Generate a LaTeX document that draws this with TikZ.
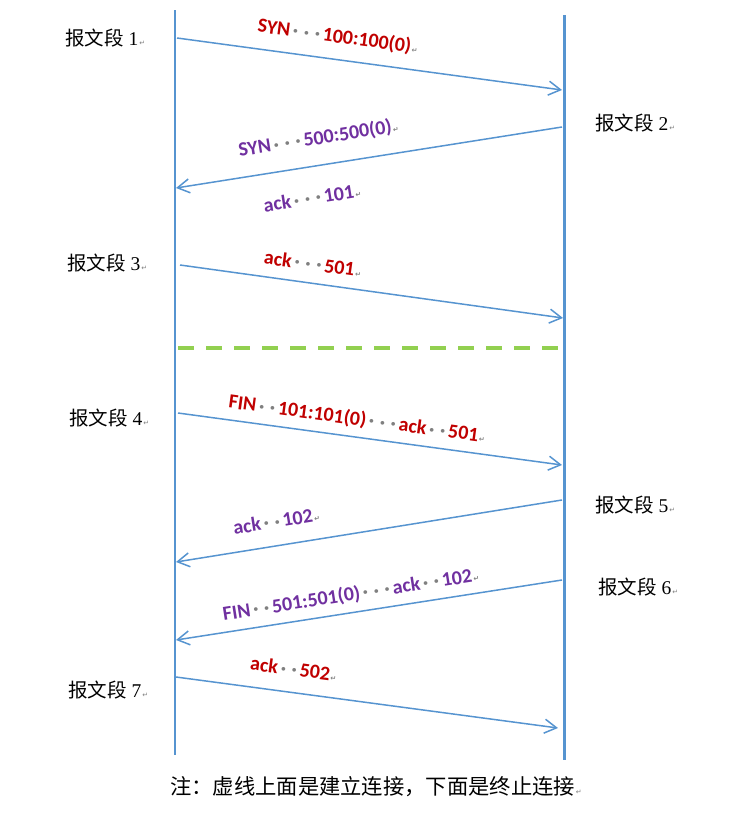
\documentclass[tikz,border=0pt]{standalone}
\usepackage{fontspec}
\setmainfont{Liberation Serif}
\newfontfamily\cjk{Noto Sans CJK SC}
\newfontfamily\lbl{Carlito}
\newfontfamily\symfont{DejaVu Sans}
\usepackage{xcolor}
\definecolor{lineblue}{RGB}{86,148,208}
\definecolor{segred}{RGB}{192,0,0}
\definecolor{segpurple}{RGB}{112,48,160}
\definecolor{dashgreen}{RGB}{146,208,80}
\usepackage{tikz}
\usetikzlibrary{positioning}
\usetikzlibrary{arrows.meta}

\newcommand{\gdot}{\makebox[11pt]{\color{gray}·}}
\newcommand{\pmark}{\hspace{1pt}{\symfont\fontsize{7}{7}\selectfont\color{gray}↵}}

\begin{document}
\begin{tikzpicture}[x=1pt,y=-1pt]
\useasboundingbox (0,0) rectangle (740,819);

% the two hosts
\coordinate (LT) at (175,10);
\coordinate (LB) at (175,755);
\coordinate (RT) at (564,15);
\coordinate (RB) at (564,760);
\draw[lineblue,line width=2.2pt] (LT) -- (LB);
\draw[lineblue,line width=3pt] (RT) -- (RB);

% ends of the segments
\coordinate (L1) at (177,38);  \coordinate (R1) at (562,90);
\coordinate (R2) at (562,127); \coordinate (L2) at (176,188);
\coordinate (L3) at (180,265); \coordinate (R3) at (563,318);
\coordinate (L4) at (178,413); \coordinate (R4) at (562,465);
\coordinate (R5) at (562,500); \coordinate (L5) at (176,562);
\coordinate (R6) at (562,580); \coordinate (L6) at (176,640);
\coordinate (L7) at (176,677); \coordinate (R7) at (558,728);

% green separator
\coordinate (DL) at (178,348);
\coordinate (DR) at (558,348);
\draw[dashgreen,line width=4pt,dash pattern=on 16pt off 12pt] (DL) -- (DR);

\begin{scope}[every node/.style={anchor=west,inner sep=0pt,font=\fontsize{19.5}{19.5}\selectfont}]
    \node (S1) at (65,38)  {{\cjk 报文段} 1\pmark};
    \node (S2) at (595,123) {{\cjk 报文段} 2\pmark};
    \node (S3) at (67,263) {{\cjk 报文段} 3\pmark};
    \node (S4) at (69,418) {{\cjk 报文段} 4\pmark};
    \node (S5) at (595,505) {{\cjk 报文段} 5\pmark};
    \node (S6) at (598,587) {{\cjk 报文段} 6\pmark};
    \node (S7) at (68,690) {{\cjk 报文段} 7\pmark};
    \node (N) at (170,787) {\cjk\fontsize{21.3}{21.3}\selectfont 注：虚线上面是建立连接，下面是终止连接\pmark};
\end{scope}

\begin{scope}[>={Straight Barb[length=12pt,width=14pt]},
              every edge/.style={draw=lineblue,line width=1.5pt},
              every node/.style={sloped,inner sep=0pt,text height=14pt,text depth=4pt,
                                 font=\lbl\bfseries\fontsize{20}{20}\selectfont}]
    \path [->] (L1) edge node[pos=0.41,above=12pt,text=segred] {SYN\gdot\gdot\gdot 100:100(0)\pmark} (R1);
    \path [->] (R2) edge node[pos=0.62,above=16pt,text=segpurple] {SYN\gdot\gdot\gdot 500:500(0)\pmark}
                         node[pos=0.66,below=23pt,text=segpurple] {ack\gdot\gdot\gdot 101\pmark} (L2);
    \path [->] (L3) edge node[pos=0.34,above=8pt,text=segred] {ack\gdot\gdot\gdot 501\pmark} (R3);
    \path [->] (L4) edge node[pos=0.46,above=7pt,text=segred] {FIN\gdot\gdot 101:101(0)\gdot\gdot\gdot ack\gdot\gdot 501\pmark} (R4);
    \path [->] (R5) edge node[pos=0.73,above=13pt,text=segpurple] {ack\gdot\gdot 102\pmark} (L5);
    \path [->] (R6) edge node[pos=0.54,above=7pt,text=segpurple] {FIN\gdot\gdot 501:501(0)\gdot\gdot\gdot ack\gdot\gdot 102\pmark} (L6);
    \path [->] (L7) edge node[pos=0.30,above=12pt,text=segred] {ack\gdot\gdot 502\pmark} (R7);
\end{scope}
\end{tikzpicture}
\end{document}
